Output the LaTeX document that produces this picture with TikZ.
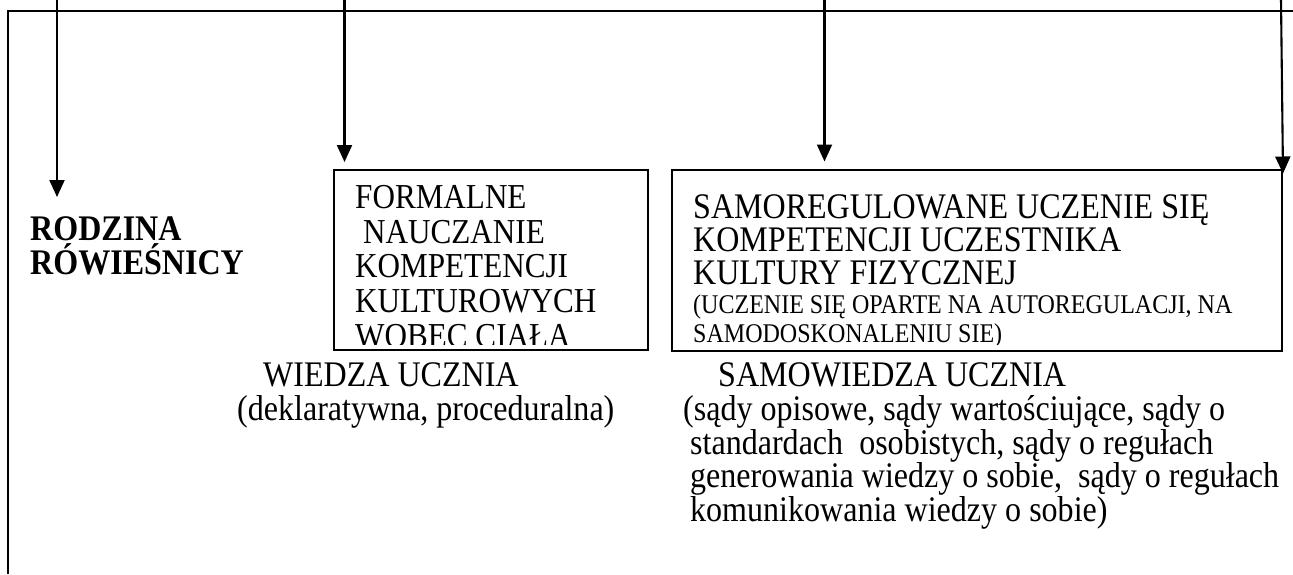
\documentclass[tikz,border=0pt]{standalone}
\usepackage{fontspec}
\setmainfont{Liberation Serif}[FakeStretch=0.89]
\usetikzlibrary{arrows.meta,calc}
\begin{document}
\begin{tikzpicture}[x=1pt,y=-1pt,
  frameline/.style={line width=2.1pt},
  flow/.style={line width=2.1pt,-{Triangle[length=17pt,width=15pt]}},
  panel/.style={draw,line width=2pt,rectangle,inner sep=0pt,anchor=north west},
  txt/.style={inner sep=0pt,anchor=north west,align=left,font=\fontsize{36}{33}\selectfont},
  smalltxt/.style={inner sep=0pt,anchor=north west,align=left,font=\fontsize{27}{29}\selectfont},
]
\useasboundingbox (0,0) rectangle (1293,574);

% outer frame
\coordinate (frameBL) at (8,574);
\coordinate (frameTL) at (8,11);
\coordinate (frameTR) at (1293,11);
\draw[frameline] (frameBL) -- (frameTL) -- (frameTR);

% boxes
\node[panel,minimum width=314pt,minimum height=180pt] (formal) at (333,169) {};
\node[panel,minimum width=610pt,minimum height=181pt] (samoreg) at (671,168.5) {};

% left labels
\node[txt,font=\fontsize{36}{34}\selectfont\bfseries] (rodzina) at (30,214)
  {\rule{0pt}{26pt}RODZINA\\RÓWIEŚNICY};

% text inside the boxes, cut off above the lower edge
\begin{scope}
  \clip ($(formal.south west)+(0,-7)$) rectangle (formal.north east);
  \node[txt,font=\fontsize{35}{34.8}\selectfont] (formaltxt) at (355,182)
    {\rule{0pt}{26pt}FORMALNE\\\hspace*{8pt}NAUCZANIE\\KOMPETENCJI\\KULTUROWYCH\\WOBEC CIAŁA};
\end{scope}
\begin{scope}
  \clip ($(samoreg.south west)+(0,-7)$) rectangle (samoreg.north east);
  \node[txt] (samoregtxt) at (693,192)
    {\rule{0pt}{26pt}SAMOREGULOWANE UCZENIE SIĘ\\KOMPETENCJI UCZESTNIKA\\KULTURY FIZYCZNEJ};
  \node[smalltxt] (samoregsub) at (693,293)
    {\rule{0pt}{20pt}(UCZENIE SIĘ OPARTE NA AUTOREGULACJI, NA\\SAMODOSKONALENIU SIE)};
\end{scope}

% captions under the boxes
\node[txt,font=\fontsize{36}{32}\selectfont] (wiedza) at (237,360)
  {\hspace*{26pt}\rule{0pt}{26pt}WIEDZA UCZNIA\\[2.5pt](deklaratywna, proceduralna)};
\node[txt,font=\fontsize{36}{31.6}\selectfont] (samowiedza) at (683,360)
  {\hspace*{35pt}\rule{0pt}{26pt}SAMOWIEDZA UCZNIA\\[2.5pt]
   (sądy opisowe, sądy wartościujące, sądy o\\
   \hspace*{7pt}standardach\ \ osobistych, sądy o regułach\\
   \hspace*{7pt}generowania wiedzy o sobie,\ \ sądy o regułach\\
   \hspace*{7pt}komunikowania wiedzy o sobie)};

% incoming arrows from above
\coordinate (src1) at (57,0);
\coordinate (src2) at (344.5,0);
\coordinate (src3) at (824.5,0);
\coordinate (src4) at (1281,0);
\coordinate (dst1) at ($(rodzina.north west)+(27,-17)$);
\draw[flow] (src1) -- (dst1);
\draw[flow] (src2) -- ($(formal.north west)+(11.5,-7)$);
\draw[flow] (src3) -- ($(samoreg.north west)+(153.5,-7)$);
\draw[flow] (src4) -- ($(samoreg.north east)+(0,5)$);
\end{tikzpicture}
\end{document}
